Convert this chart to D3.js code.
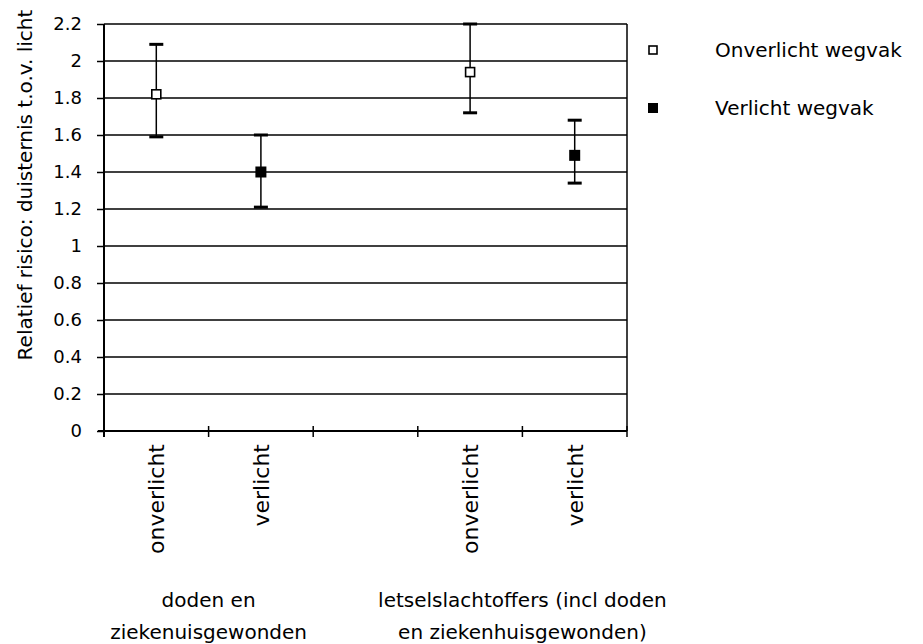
<!DOCTYPE html>
<html>
<head>
<meta charset="utf-8">
<script src="https://cdn.jsdelivr.net/npm/d3@7"></script>
<style>
  html, body { margin: 0; padding: 0; background: #fff; }
  svg { display: block; }
  text { font-family: "DejaVu Sans", Verdana, sans-serif; fill: #000; }
</style>
</head>
<body>
<svg id="chart" width="923" height="644"></svg>
<script>
// Category slots along the x axis (one empty slot separates the two groups)
const slots = ["onverlicht", "verlicht", "", "onverlicht", "verlicht"];
const slotKeys = ["a1", "a2", "gap", "b1", "b2"];
const groupLabels = [
  ["doden en", "ziekenuisgewonden"],
  ["letselslachtoffers (incl doden", "en ziekenhuisgewonden)"]
];
const yTicks = [0, 0.2, 0.4, 0.6, 0.8, 1, 1.2, 1.4, 1.6, 1.8, 2, 2.2];

// Relative risk with confidence interval
const seriesNames = ["Onverlicht wegvak", "Verlicht wegvak"];
const pointKeys = ["a1", "a2", "b1", "b2"];
const pointSeries = [0, 1, 0, 1];
const riskValues = [1.82, 1.40, 1.94, 1.49];
const lowerValues = [1.59, 1.21, 1.72, 1.34];
const upperValues = [2.09, 1.60, 2.20, 1.68];

const svg = d3.select("#chart");
const margin = { left: 104, top: 24, right: 296, bottom: 213 };
const W = 923 - margin.left - margin.right;
const H = 644 - margin.top - margin.bottom;

const x = d3.scaleBand().domain(slotKeys).range([0, W]).paddingInner(0).paddingOuter(0);
const y = d3.scaleLinear().domain([0, 2.2]).range([H, 0]);

const g = svg.append("g").attr("transform", `translate(${margin.left},${margin.top})`);

// Horizontal gridlines
g.selectAll("line.grid").data(yTicks.filter(v => v > 0)).join("line")
  .attr("class", "grid")
  .attr("x1", 0).attr("x2", W)
  .attr("y1", d => y(d)).attr("y2", d => y(d))
  .attr("stroke", "#000").attr("stroke-width", 1.5);

// Right border of plot area
g.append("line").attr("x1", W).attr("x2", W).attr("y1", 0).attr("y2", H)
  .attr("stroke", "#000").attr("stroke-width", 1.5);

// Y axis
const yAxis = d3.axisLeft(y).tickValues(yTicks).tickSize(7).tickPadding(15)
  .tickFormat(d => d3.format("")(+d.toFixed(1)));
const yg = g.append("g").call(yAxis);
yg.select(".domain").attr("stroke", "#000").attr("stroke-width", 2)
  .attr("d", `M0,${y(2.2)}V${H + 6}`);
yg.selectAll(".tick line").attr("stroke", "#000").attr("stroke-width", 1.5);
yg.selectAll(".tick text").style("font-size", "18px").style("font-family", "DejaVu Sans, Verdana, sans-serif").attr("fill", "#000");

// X axis: ticks at slot boundaries, labels at slot centers
const xg = g.append("g").attr("transform", `translate(0,${H})`);
xg.append("line").attr("x1", -6).attr("x2", W).attr("y1", 0).attr("y2", 0)
  .attr("stroke", "#000").attr("stroke-width", 2);
const bounds = slotKeys.map(k => x(k)).concat([W]);
xg.selectAll("line.xt").data(bounds).join("line")
  .attr("class", "xt")
  .attr("x1", d => d).attr("x2", d => d).attr("y1", -5).attr("y2", 6)
  .attr("stroke", "#000").attr("stroke-width", 1.5);
xg.selectAll("text.cat").data(slots.map((s, i) => ({ s, k: slotKeys[i] })).filter(d => d.s)).join("text")
  .attr("class", "cat")
  .attr("transform", d => `translate(${x(d.k) + x.bandwidth() / 2 + 8},13) rotate(-90)`)
  .attr("text-anchor", "end")
  .style("font-size", "22px")
  .text(d => d.s);

// Group labels under the categories
const groupCenters = [
  (x("a1") + x("a2") + x.bandwidth()) / 2,
  (x("b1") + x("b2") + x.bandwidth()) / 2
];
groupLabels.forEach((lines, gi) => {
  lines.forEach((t, li) => {
    g.append("text")
      .attr("x", groupCenters[gi]).attr("y", H + 176 + li * 32)
      .attr("text-anchor", "middle").style("font-size", "20px").text(t);
  });
});

// Y axis title
svg.append("text")
  .attr("transform", `translate(32,185) rotate(-90)`)
  .attr("text-anchor", "middle").style("font-size", "20px")
  .text("Relatief risico: duisternis t.o.v. licht");

// Error bars
const pts = pointKeys.map((k, i) => ({
  k, s: pointSeries[i], v: riskValues[i], lo: lowerValues[i], hi: upperValues[i]
}));
const cx = d => x(d.k) + x.bandwidth() / 2;
g.selectAll("line.err").data(pts).join("line")
  .attr("class", "err")
  .attr("x1", cx).attr("x2", cx).attr("y1", d => y(d.lo)).attr("y2", d => y(d.hi))
  .attr("stroke", "#000").attr("stroke-width", 1.5);
["lo", "hi"].forEach(end => {
  g.selectAll(`line.cap-${end}`).data(pts).join("line")
    .attr("class", `cap-${end}`)
    .attr("x1", d => cx(d) - 7).attr("x2", d => cx(d) + 7)
    .attr("y1", d => y(d[end])).attr("y2", d => y(d[end]))
    .attr("stroke", "#000").attr("stroke-width", 3);
});

// Markers: open square for unlit, filled square for lit
const drawMarker = (sel, s, size) => {
  if (s === 0) {
    sel.attr("width", size - 2).attr("height", size - 2)
      .attr("fill", "#fff").attr("stroke", "#000").attr("stroke-width", 1.6);
  } else {
    sel.attr("width", size).attr("height", size).attr("fill", "#000");
  }
};
pts.forEach(d => {
  const size = 11;
  const off = d.s === 0 ? (size - 2) / 2 : size / 2;
  drawMarker(g.append("rect").attr("x", cx(d) - off).attr("y", y(d.v) - off), d.s, size);
});

// Legend
const legend = svg.append("g").attr("transform", "translate(653,0)");
const legendY = [50, 108];
seriesNames.forEach((name, i) => {
  const size = 10;
  const off = i === 0 ? (size - 2) / 2 : size / 2;
  drawMarker(legend.append("rect").attr("x", -off).attr("y", legendY[i] - off), i, size);
  legend.append("text").attr("x", 62).attr("y", legendY[i]).attr("dy", "0.35em")
    .style("font-size", "20px").text(name);
});
</script>
</body>
</html>
